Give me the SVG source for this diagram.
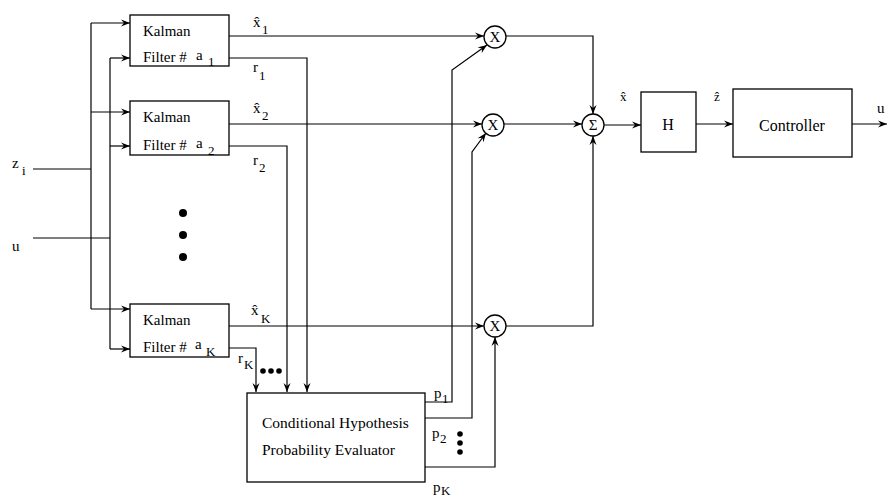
<svg xmlns="http://www.w3.org/2000/svg" width="888" height="498" viewBox="0 0 888 498">
<defs>
<marker id="ah" markerWidth="10" markerHeight="8" refX="9" refY="4" orient="auto" markerUnits="userSpaceOnUse">
<path d="M0,0.5 L9,4 L0,7.5 L3,4 Z" fill="#000"/>
</marker>
</defs>
<style>
text{font-family:"Liberation Serif","Times New Roman",serif;fill:#000}
.t{font-size:15px}
.big{font-size:16px}
.sub{font-size:13px}
.box{fill:#fff;stroke:#000;stroke-width:1.3}
.ln{fill:none;stroke:#000;stroke-width:1.2}
.ar{fill:none;stroke:#000;stroke-width:1.2;marker-end:url(#ah)}
.circ{fill:#fff;stroke:#000;stroke-width:1.3}
</style>
<rect width="888" height="498" fill="#fff"/>

<g id="connectors">
<polyline class="ln" points="33,169 91,169"/>
<polyline class="ln" points="91,23 91,309"/>
<polyline class="ar" points="91,23 130,23"/>
<polyline class="ar" points="91,112 130,112"/>
<polyline class="ar" points="91,309 130,309"/>
<polyline class="ln" points="33,238 110,238"/>
<polyline class="ln" points="110,58 110,349"/>
<polyline class="ar" points="110,58 130,58"/>
<polyline class="ar" points="110,146 130,146"/>
<polyline class="ar" points="110,349 130,349"/>
<polyline class="ar" points="229,36 484,36"/>
<polyline class="ar" points="229,124 482,124"/>
<polyline class="ar" points="229,326 484,326"/>
<polyline class="ar" points="229,58 307,58 307,392"/>
<polyline class="ar" points="229,146 287,146 287,392"/>
<polyline class="ar" points="229,348 256,348 256,392"/>
<polyline class="ar" points="425,402 452,402 452,70 487,45"/>
<polyline class="ar" points="425,418 472,418 472,152 486,133"/>
<polyline class="ar" points="425,467 495,467 495,337"/>
<polyline class="ar" points="506,36 593,36 593,114"/>
<polyline class="ar" points="504,124 582,124"/>
<polyline class="ar" points="506,326 593,326 593,136"/>
<polyline class="ar" points="604,125 641,125"/>
<polyline class="ar" points="696,124 733,124"/>
<polyline class="ar" points="852,124 887,124"/>
</g>

<g id="filter1">
<rect class="box" x="130" y="15" width="99" height="51"/>
<text class="t" x="143" y="36">Kalman</text>
<text class="t" x="143" y="62">Filter #</text>
<text class="t" x="196" y="60">a</text>
<text class="sub" x="208" y="66">1</text>
</g>
<g id="filter2">
<rect class="box" x="130" y="101" width="99" height="54"/>
<text class="t" x="143" y="122">Kalman</text>
<text class="t" x="143" y="150">Filter #</text>
<text class="t" x="196" y="148">a</text>
<text class="sub" x="208" y="155">2</text>
</g>
<g id="filterK">
<rect class="box" x="130" y="304" width="99" height="53"/>
<text class="t" x="143" y="325">Kalman</text>
<text class="t" x="143" y="352">Filter #</text>
<text class="t" x="195" y="349">a</text>
<text class="sub" x="206" y="356">K</text>
</g>

<g id="dots-filters">
<circle cx="183" cy="213" r="4"/>
<circle cx="183" cy="235" r="4"/>
<circle cx="183" cy="257" r="4"/>
</g>

<g id="evaluator">
<rect class="box" x="247" y="393" width="178" height="89"/>
<text class="t" x="262" y="428" style="font-size:15.5px">Conditional Hypothesis</text>
<text class="t" x="262" y="455" style="font-size:15.5px">Probability Evaluator</text>
</g>

<g id="mult1">
<circle class="circ" cx="495" cy="37" r="11"/>
<text class="t" x="495" y="42" text-anchor="middle">X</text>
</g>
<g id="mult2">
<circle class="circ" cx="493" cy="125" r="11"/>
<text class="t" x="493" y="130" text-anchor="middle">X</text>
</g>
<g id="multK">
<circle class="circ" cx="495" cy="326" r="11"/>
<text class="t" x="495" y="331" text-anchor="middle">X</text>
</g>
<g id="sum">
<circle class="circ" cx="593" cy="125" r="11"/>
<text class="t" x="593" y="130" text-anchor="middle">Σ</text>
</g>
<g id="H">
<rect class="box" x="641" y="92" width="55" height="60"/>
<text class="big" x="668" y="130" text-anchor="middle">H</text>
</g>
<g id="controller">
<rect class="box" x="733" y="89" width="119" height="68"/>
<text class="big" x="792" y="131" text-anchor="middle">Controller</text>
</g>

<g id="labels">
<text class="t" x="12" y="168">z</text>
<text class="sub" x="22" y="175">i</text>
<text class="t" x="12" y="251">u</text>
<text class="t" x="253" y="27">x̂</text>
<text class="sub" x="262" y="34">1</text>
<text class="t" x="253" y="72">r</text>
<text class="sub" x="259" y="80">1</text>
<text class="t" x="253" y="113">x̂</text>
<text class="sub" x="262" y="120">2</text>
<text class="t" x="253" y="165">r</text>
<text class="sub" x="259" y="172">2</text>
<text class="t" x="251" y="315">x̂</text>
<text class="sub" x="261" y="323">K</text>
<text class="t" x="238" y="363">r</text>
<text class="sub" x="244" y="369">K</text>
<circle cx="263" cy="371" r="2.8"/>
<circle cx="271" cy="371" r="2.8"/>
<circle cx="279" cy="371" r="2.8"/>
<text class="t" x="434" y="398">p</text>
<text class="sub" x="442" y="403">1</text>
<text class="t" x="432" y="438">p</text>
<text class="sub" x="440" y="443">2</text>
<circle cx="460" cy="434" r="2.8"/>
<circle cx="460" cy="443" r="2.8"/>
<circle cx="460" cy="452" r="2.8"/>
<text class="t" x="433" y="492">p</text>
<text class="sub" x="441" y="495">K</text>
<text class="t" x="620" y="101" style="font-size:13px">x̂</text>
<text class="t" x="714" y="101" style="font-size:13px">ẑ</text>
<text class="t" x="877" y="113">u</text>
</g>
</svg>
